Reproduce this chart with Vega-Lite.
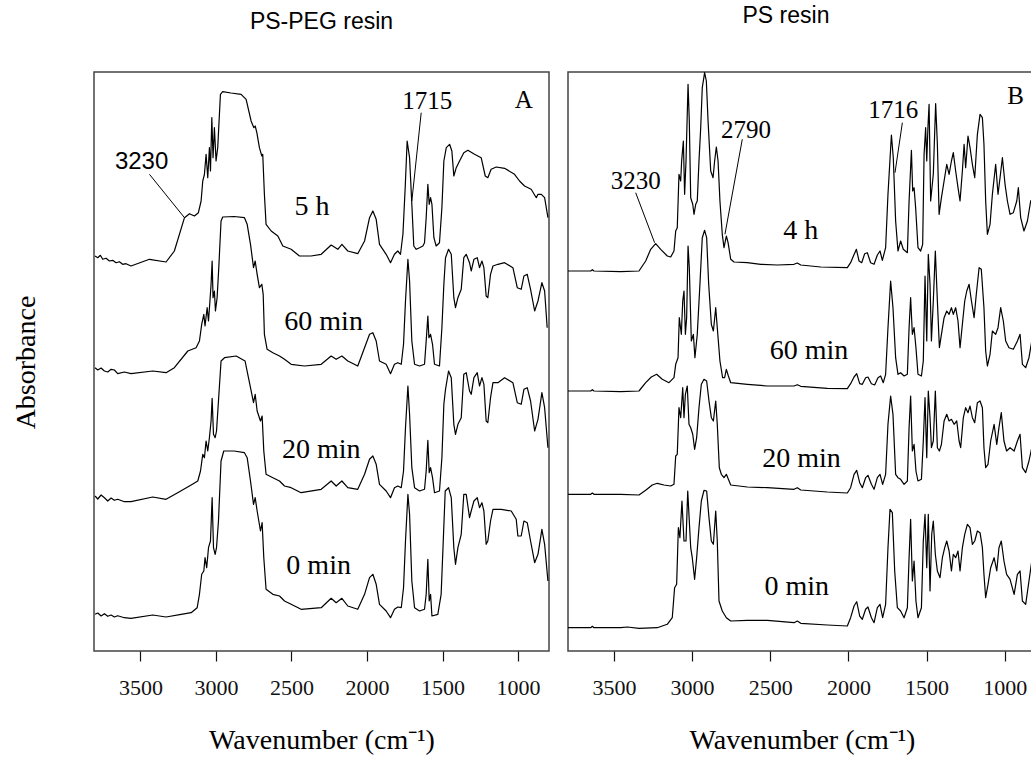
{
"$schema": "https://vega.github.io/schema/vega-lite/v6.json",
"background": "white",
"padding": {"left": 11, "top": 4, "right": 0, "bottom": 0},
"autosize": {"type": "pad"},
"spacing": 19,
"bounds": "flush",
"config": {
  "font": "Liberation Serif",
  "view": {"stroke": "#444", "strokeWidth": 1.5},
  "title": {"font": "Liberation Sans", "fontSize": 23, "fontWeight": "normal", "color": "black", "baseline": "alphabetic"}
},
"datasets": {
"pspeg": [
{"s":"5 h","w":3800,"a":395},{"s":"5 h","w":3782,"a":393.3},{"s":"5 h","w":3765,"a":395.7},{"s":"5 h","w":3749,"a":391.7},{"s":"5 h","w":3727,"a":392.7},{"s":"5 h","w":3705,"a":390},{"s":"5 h","w":3683,"a":390.7},{"s":"5 h","w":3661,"a":388.3},{"s":"5 h","w":3639,"a":389.3},{"s":"5 h","w":3617,"a":386.7},{"s":"5 h","w":3595,"a":387.3},{"s":"5 h","w":3562,"a":385},{"s":"5 h","w":3440,"a":391.7},{"s":"5 h","w":3330,"a":389},{"s":"5 h","w":3275,"a":400},{"s":"5 h","w":3208,"a":433.3},{"s":"5 h","w":3175,"a":437.3},{"s":"5 h","w":3142,"a":435},{"s":"5 h","w":3116,"a":438.3},{"s":"5 h","w":3098,"a":450},{"s":"5 h","w":3087,"a":470},{"s":"5 h","w":3076,"a":476.7},{"s":"5 h","w":3065,"a":496.7},{"s":"5 h","w":3054,"a":473.3},{"s":"5 h","w":3043,"a":503.3},{"s":"5 h","w":3036,"a":480},{"s":"5 h","w":3027,"a":533.3},{"s":"5 h","w":3019,"a":493.3},{"s":"5 h","w":3010,"a":523.3},{"s":"5 h","w":2999,"a":490},{"s":"5 h","w":2988,"a":503.3},{"s":"5 h","w":2970,"a":556.7},{"s":"5 h","w":2955,"a":559.3},{"s":"5 h","w":2900,"a":558},{"s":"5 h","w":2833,"a":556.7},{"s":"5 h","w":2800,"a":551.7},{"s":"5 h","w":2767,"a":530},{"s":"5 h","w":2749,"a":523.3},{"s":"5 h","w":2740,"a":525},{"s":"5 h","w":2729,"a":518.3},{"s":"5 h","w":2712,"a":503.3},{"s":"5 h","w":2696,"a":495},{"s":"5 h","w":2690,"a":496.7},{"s":"5 h","w":2679,"a":456.7},{"s":"5 h","w":2668,"a":426.7},{"s":"5 h","w":2634,"a":420},{"s":"5 h","w":2590,"a":415},{"s":"5 h","w":2557,"a":405},{"s":"5 h","w":2502,"a":401.7},{"s":"5 h","w":2447,"a":395},{"s":"5 h","w":2370,"a":395},{"s":"5 h","w":2303,"a":396.7},{"s":"5 h","w":2237,"a":406},{"s":"5 h","w":2193,"a":401.7},{"s":"5 h","w":2166,"a":406.7},{"s":"5 h","w":2127,"a":400},{"s":"5 h","w":2061,"a":397.3},{"s":"5 h","w":2016,"a":410},{"s":"5 h","w":1983,"a":433.3},{"s":"5 h","w":1961,"a":440},{"s":"5 h","w":1939,"a":431.7},{"s":"5 h","w":1917,"a":406.7},{"s":"5 h","w":1873,"a":396.7},{"s":"5 h","w":1844,"a":388.3},{"s":"5 h","w":1818,"a":396.7},{"s":"5 h","w":1796,"a":400},{"s":"5 h","w":1778,"a":396.7},{"s":"5 h","w":1762,"a":416.7},{"s":"5 h","w":1747,"a":463.3},{"s":"5 h","w":1734,"a":510},{"s":"5 h","w":1718,"a":493.3},{"s":"5 h","w":1703,"a":446.7},{"s":"5 h","w":1690,"a":405},{"s":"5 h","w":1674,"a":401.7},{"s":"5 h","w":1652,"a":403.3},{"s":"5 h","w":1630,"a":405},{"s":"5 h","w":1619,"a":408.3},{"s":"5 h","w":1608,"a":433.3},{"s":"5 h","w":1597,"a":466.7},{"s":"5 h","w":1588,"a":446.7},{"s":"5 h","w":1579,"a":453.3},{"s":"5 h","w":1570,"a":446.7},{"s":"5 h","w":1557,"a":413.3},{"s":"5 h","w":1542,"a":405},{"s":"5 h","w":1520,"a":408.3},{"s":"5 h","w":1504,"a":443.3},{"s":"5 h","w":1491,"a":490},{"s":"5 h","w":1475,"a":503.3},{"s":"5 h","w":1453,"a":506.7},{"s":"5 h","w":1438,"a":500},{"s":"5 h","w":1425,"a":475},{"s":"5 h","w":1409,"a":483.3},{"s":"5 h","w":1387,"a":490},{"s":"5 h","w":1359,"a":498.3},{"s":"5 h","w":1332,"a":500.7},{"s":"5 h","w":1288,"a":496.7},{"s":"5 h","w":1244,"a":493.3},{"s":"5 h","w":1217,"a":475},{"s":"5 h","w":1200,"a":473.3},{"s":"5 h","w":1178,"a":481.7},{"s":"5 h","w":1144,"a":484},{"s":"5 h","w":1089,"a":482.7},{"s":"5 h","w":1023,"a":476.7},{"s":"5 h","w":990,"a":470},{"s":"5 h","w":957,"a":465},{"s":"5 h","w":913,"a":461.7},{"s":"5 h","w":879,"a":453.3},{"s":"5 h","w":868,"a":456.7},{"s":"5 h","w":846,"a":456.7},{"s":"5 h","w":824,"a":453.3},{"s":"5 h","w":802,"a":433.3},
{"s":"60 min","w":3800,"a":283.3},{"s":"60 min","w":3782,"a":281},{"s":"60 min","w":3760,"a":283},{"s":"60 min","w":3738,"a":280},{"s":"60 min","w":3716,"a":279},{"s":"60 min","w":3694,"a":281.7},{"s":"60 min","w":3672,"a":281},{"s":"60 min","w":3650,"a":277.3},{"s":"60 min","w":3606,"a":279},{"s":"60 min","w":3562,"a":277.3},{"s":"60 min","w":3418,"a":280},{"s":"60 min","w":3330,"a":278.3},{"s":"60 min","w":3275,"a":283.3},{"s":"60 min","w":3186,"a":300},{"s":"60 min","w":3131,"a":303.3},{"s":"60 min","w":3109,"a":310},{"s":"60 min","w":3094,"a":326.7},{"s":"60 min","w":3080,"a":336.7},{"s":"60 min","w":3072,"a":325},{"s":"60 min","w":3058,"a":343.3},{"s":"60 min","w":3049,"a":330},{"s":"60 min","w":3041,"a":346.7},{"s":"60 min","w":3032,"a":366.7},{"s":"60 min","w":3025,"a":390},{"s":"60 min","w":3019,"a":353.3},{"s":"60 min","w":3010,"a":360},{"s":"60 min","w":3003,"a":340},{"s":"60 min","w":2992,"a":353.3},{"s":"60 min","w":2981,"a":383.3},{"s":"60 min","w":2966,"a":430},{"s":"60 min","w":2955,"a":434},{"s":"60 min","w":2880,"a":434.5},{"s":"60 min","w":2811,"a":433.3},{"s":"60 min","w":2793,"a":426.7},{"s":"60 min","w":2771,"a":406.7},{"s":"60 min","w":2751,"a":383.3},{"s":"60 min","w":2740,"a":390},{"s":"60 min","w":2727,"a":376.7},{"s":"60 min","w":2712,"a":363.3},{"s":"60 min","w":2696,"a":366.7},{"s":"60 min","w":2687,"a":356.7},{"s":"60 min","w":2679,"a":316.7},{"s":"60 min","w":2661,"a":301.7},{"s":"60 min","w":2623,"a":298.3},{"s":"60 min","w":2579,"a":295},{"s":"60 min","w":2546,"a":291.7},{"s":"60 min","w":2502,"a":286.7},{"s":"60 min","w":2414,"a":285},{"s":"60 min","w":2303,"a":286.7},{"s":"60 min","w":2237,"a":295},{"s":"60 min","w":2204,"a":291.7},{"s":"60 min","w":2166,"a":295},{"s":"60 min","w":2127,"a":290},{"s":"60 min","w":2061,"a":285},{"s":"60 min","w":2016,"a":303.3},{"s":"60 min","w":1983,"a":316.7},{"s":"60 min","w":1961,"a":318.3},{"s":"60 min","w":1939,"a":310},{"s":"60 min","w":1917,"a":290},{"s":"60 min","w":1873,"a":286.7},{"s":"60 min","w":1844,"a":277.3},{"s":"60 min","w":1818,"a":286.7},{"s":"60 min","w":1796,"a":288.3},{"s":"60 min","w":1773,"a":286.7},{"s":"60 min","w":1758,"a":306.7},{"s":"60 min","w":1745,"a":350},{"s":"60 min","w":1729,"a":391.7},{"s":"60 min","w":1718,"a":370},{"s":"60 min","w":1703,"a":310},{"s":"60 min","w":1685,"a":286.7},{"s":"60 min","w":1652,"a":285},{"s":"60 min","w":1619,"a":286.7},{"s":"60 min","w":1608,"a":310},{"s":"60 min","w":1597,"a":335},{"s":"60 min","w":1590,"a":313.3},{"s":"60 min","w":1579,"a":316.7},{"s":"60 min","w":1566,"a":306.7},{"s":"60 min","w":1553,"a":286.7},{"s":"60 min","w":1520,"a":285},{"s":"60 min","w":1504,"a":323.3},{"s":"60 min","w":1491,"a":366.7},{"s":"60 min","w":1480,"a":393.3},{"s":"60 min","w":1460,"a":401.7},{"s":"60 min","w":1442,"a":396.7},{"s":"60 min","w":1425,"a":353.3},{"s":"60 min","w":1414,"a":343.3},{"s":"60 min","w":1398,"a":353.3},{"s":"60 min","w":1376,"a":361.7},{"s":"60 min","w":1359,"a":393.3},{"s":"60 min","w":1343,"a":396.7},{"s":"60 min","w":1321,"a":388.3},{"s":"60 min","w":1310,"a":380},{"s":"60 min","w":1292,"a":391.7},{"s":"60 min","w":1270,"a":393.3},{"s":"60 min","w":1255,"a":383.3},{"s":"60 min","w":1239,"a":390},{"s":"60 min","w":1226,"a":383.3},{"s":"60 min","w":1211,"a":355},{"s":"60 min","w":1200,"a":353.3},{"s":"60 min","w":1182,"a":376.7},{"s":"60 min","w":1166,"a":385},{"s":"60 min","w":1133,"a":386.7},{"s":"60 min","w":1089,"a":388.3},{"s":"60 min","w":1034,"a":383.3},{"s":"60 min","w":1005,"a":363.3},{"s":"60 min","w":979,"a":361.7},{"s":"60 min","w":961,"a":375},{"s":"60 min","w":939,"a":376.7},{"s":"60 min","w":917,"a":361.7},{"s":"60 min","w":890,"a":340},{"s":"60 min","w":868,"a":350},{"s":"60 min","w":842,"a":368.3},{"s":"60 min","w":824,"a":360},{"s":"60 min","w":807,"a":323.3},
{"s":"20 min","w":3800,"a":155},{"s":"20 min","w":3782,"a":152},{"s":"20 min","w":3760,"a":156},{"s":"20 min","w":3738,"a":153.3},{"s":"20 min","w":3716,"a":150},{"s":"20 min","w":3694,"a":153},{"s":"20 min","w":3672,"a":150.7},{"s":"20 min","w":3650,"a":151.7},{"s":"20 min","w":3606,"a":149.3},{"s":"20 min","w":3562,"a":149.3},{"s":"20 min","w":3418,"a":154},{"s":"20 min","w":3330,"a":151.7},{"s":"20 min","w":3253,"a":158.3},{"s":"20 min","w":3164,"a":166},{"s":"20 min","w":3120,"a":170},{"s":"20 min","w":3102,"a":180},{"s":"20 min","w":3087,"a":196.7},{"s":"20 min","w":3076,"a":193.3},{"s":"20 min","w":3065,"a":210},{"s":"20 min","w":3054,"a":200},{"s":"20 min","w":3043,"a":213.3},{"s":"20 min","w":3032,"a":230},{"s":"20 min","w":3025,"a":252.7},{"s":"20 min","w":3016,"a":216.7},{"s":"20 min","w":3005,"a":213.3},{"s":"20 min","w":2996,"a":220},{"s":"20 min","w":2983,"a":250},{"s":"20 min","w":2966,"a":290},{"s":"20 min","w":2943,"a":293.3},{"s":"20 min","w":2866,"a":295},{"s":"20 min","w":2807,"a":290},{"s":"20 min","w":2789,"a":276.7},{"s":"20 min","w":2771,"a":263.3},{"s":"20 min","w":2751,"a":248.3},{"s":"20 min","w":2740,"a":256.7},{"s":"20 min","w":2727,"a":240},{"s":"20 min","w":2705,"a":230},{"s":"20 min","w":2694,"a":235},{"s":"20 min","w":2683,"a":200},{"s":"20 min","w":2668,"a":176.7},{"s":"20 min","w":2623,"a":173.3},{"s":"20 min","w":2579,"a":170},{"s":"20 min","w":2546,"a":165},{"s":"20 min","w":2502,"a":163.3},{"s":"20 min","w":2436,"a":158.3},{"s":"20 min","w":2303,"a":161.7},{"s":"20 min","w":2237,"a":170},{"s":"20 min","w":2204,"a":165},{"s":"20 min","w":2166,"a":170},{"s":"20 min","w":2127,"a":163.3},{"s":"20 min","w":2061,"a":161.7},{"s":"20 min","w":2016,"a":176.7},{"s":"20 min","w":1983,"a":191.7},{"s":"20 min","w":1961,"a":195},{"s":"20 min","w":1939,"a":186.7},{"s":"20 min","w":1917,"a":166.7},{"s":"20 min","w":1873,"a":160},{"s":"20 min","w":1844,"a":153.3},{"s":"20 min","w":1818,"a":163.3},{"s":"20 min","w":1796,"a":165},{"s":"20 min","w":1773,"a":163.3},{"s":"20 min","w":1758,"a":180},{"s":"20 min","w":1745,"a":223.3},{"s":"20 min","w":1729,"a":265},{"s":"20 min","w":1718,"a":236.7},{"s":"20 min","w":1703,"a":183.3},{"s":"20 min","w":1685,"a":163.3},{"s":"20 min","w":1652,"a":160},{"s":"20 min","w":1619,"a":161.7},{"s":"20 min","w":1608,"a":180},{"s":"20 min","w":1597,"a":210.7},{"s":"20 min","w":1588,"a":178.3},{"s":"20 min","w":1579,"a":183.3},{"s":"20 min","w":1566,"a":173.3},{"s":"20 min","w":1553,"a":158.3},{"s":"20 min","w":1520,"a":160},{"s":"20 min","w":1504,"a":193.3},{"s":"20 min","w":1491,"a":246.7},{"s":"20 min","w":1480,"a":261.7},{"s":"20 min","w":1460,"a":280},{"s":"20 min","w":1442,"a":273.3},{"s":"20 min","w":1425,"a":226.7},{"s":"20 min","w":1414,"a":216.7},{"s":"20 min","w":1398,"a":226.7},{"s":"20 min","w":1376,"a":233.3},{"s":"20 min","w":1359,"a":276.7},{"s":"20 min","w":1343,"a":278.3},{"s":"20 min","w":1321,"a":260},{"s":"20 min","w":1310,"a":256.7},{"s":"20 min","w":1292,"a":273.3},{"s":"20 min","w":1270,"a":278.3},{"s":"20 min","w":1255,"a":265},{"s":"20 min","w":1239,"a":273.3},{"s":"20 min","w":1226,"a":266.7},{"s":"20 min","w":1211,"a":230},{"s":"20 min","w":1200,"a":228.3},{"s":"20 min","w":1182,"a":253.3},{"s":"20 min","w":1166,"a":268.3},{"s":"20 min","w":1133,"a":268.3},{"s":"20 min","w":1089,"a":273.3},{"s":"20 min","w":1034,"a":268.3},{"s":"20 min","w":1005,"a":248.3},{"s":"20 min","w":979,"a":246.7},{"s":"20 min","w":961,"a":261.7},{"s":"20 min","w":939,"a":263.3},{"s":"20 min","w":917,"a":250},{"s":"20 min","w":890,"a":220},{"s":"20 min","w":868,"a":231.7},{"s":"20 min","w":842,"a":258.3},{"s":"20 min","w":824,"a":243.3},{"s":"20 min","w":802,"a":203.3},
{"s":"0 min","w":3800,"a":36.7},{"s":"0 min","w":3782,"a":38},{"s":"0 min","w":3760,"a":35},{"s":"0 min","w":3738,"a":37.3},{"s":"0 min","w":3716,"a":34.7},{"s":"0 min","w":3694,"a":36},{"s":"0 min","w":3672,"a":34},{"s":"0 min","w":3650,"a":35.3},{"s":"0 min","w":3606,"a":33.3},{"s":"0 min","w":3562,"a":32.7},{"s":"0 min","w":3418,"a":36},{"s":"0 min","w":3330,"a":34},{"s":"0 min","w":3230,"a":36.7},{"s":"0 min","w":3164,"a":38.3},{"s":"0 min","w":3124,"a":43.3},{"s":"0 min","w":3109,"a":56.7},{"s":"0 min","w":3094,"a":76.7},{"s":"0 min","w":3080,"a":80},{"s":"0 min","w":3072,"a":93.3},{"s":"0 min","w":3061,"a":83.3},{"s":"0 min","w":3049,"a":103.3},{"s":"0 min","w":3036,"a":110},{"s":"0 min","w":3025,"a":153.3},{"s":"0 min","w":3016,"a":103.3},{"s":"0 min","w":3005,"a":96.7},{"s":"0 min","w":2996,"a":103.3},{"s":"0 min","w":2983,"a":130},{"s":"0 min","w":2966,"a":190},{"s":"0 min","w":2948,"a":200},{"s":"0 min","w":2880,"a":200},{"s":"0 min","w":2811,"a":198.3},{"s":"0 min","w":2793,"a":193.3},{"s":"0 min","w":2771,"a":170},{"s":"0 min","w":2751,"a":146.7},{"s":"0 min","w":2740,"a":153.3},{"s":"0 min","w":2727,"a":140},{"s":"0 min","w":2705,"a":120},{"s":"0 min","w":2694,"a":128.3},{"s":"0 min","w":2683,"a":93.3},{"s":"0 min","w":2668,"a":61.7},{"s":"0 min","w":2623,"a":56.7},{"s":"0 min","w":2579,"a":55},{"s":"0 min","w":2546,"a":50},{"s":"0 min","w":2502,"a":46.7},{"s":"0 min","w":2436,"a":41.7},{"s":"0 min","w":2303,"a":43.3},{"s":"0 min","w":2237,"a":52.7},{"s":"0 min","w":2204,"a":48.3},{"s":"0 min","w":2166,"a":52.7},{"s":"0 min","w":2127,"a":45},{"s":"0 min","w":2061,"a":41.7},{"s":"0 min","w":2016,"a":56.7},{"s":"0 min","w":1983,"a":73.3},{"s":"0 min","w":1961,"a":76.7},{"s":"0 min","w":1939,"a":66.7},{"s":"0 min","w":1917,"a":46.7},{"s":"0 min","w":1873,"a":40},{"s":"0 min","w":1844,"a":33.3},{"s":"0 min","w":1818,"a":41.7},{"s":"0 min","w":1796,"a":44},{"s":"0 min","w":1773,"a":43.3},{"s":"0 min","w":1758,"a":63.3},{"s":"0 min","w":1745,"a":110},{"s":"0 min","w":1729,"a":156.7},{"s":"0 min","w":1718,"a":136.7},{"s":"0 min","w":1703,"a":70},{"s":"0 min","w":1685,"a":43.3},{"s":"0 min","w":1652,"a":40},{"s":"0 min","w":1619,"a":41.7},{"s":"0 min","w":1608,"a":56.7},{"s":"0 min","w":1597,"a":91.7},{"s":"0 min","w":1588,"a":50},{"s":"0 min","w":1579,"a":56.7},{"s":"0 min","w":1570,"a":35},{"s":"0 min","w":1531,"a":36.7},{"s":"0 min","w":1509,"a":56.7},{"s":"0 min","w":1495,"a":110},{"s":"0 min","w":1482,"a":160},{"s":"0 min","w":1460,"a":163.3},{"s":"0 min","w":1442,"a":153.3},{"s":"0 min","w":1425,"a":103.3},{"s":"0 min","w":1414,"a":86.7},{"s":"0 min","w":1398,"a":103.3},{"s":"0 min","w":1376,"a":116.7},{"s":"0 min","w":1359,"a":156.7},{"s":"0 min","w":1343,"a":156.7},{"s":"0 min","w":1321,"a":133.3},{"s":"0 min","w":1310,"a":140},{"s":"0 min","w":1292,"a":150},{"s":"0 min","w":1270,"a":153.3},{"s":"0 min","w":1255,"a":143.3},{"s":"0 min","w":1239,"a":148.3},{"s":"0 min","w":1226,"a":140},{"s":"0 min","w":1211,"a":106.7},{"s":"0 min","w":1200,"a":110},{"s":"0 min","w":1182,"a":130},{"s":"0 min","w":1166,"a":141.7},{"s":"0 min","w":1111,"a":141.7},{"s":"0 min","w":1045,"a":140},{"s":"0 min","w":1012,"a":131.7},{"s":"0 min","w":1001,"a":115},{"s":"0 min","w":979,"a":115},{"s":"0 min","w":961,"a":130},{"s":"0 min","w":939,"a":128.3},{"s":"0 min","w":917,"a":110},{"s":"0 min","w":890,"a":88.3},{"s":"0 min","w":868,"a":96.7},{"s":"0 min","w":842,"a":121.7},{"s":"0 min","w":824,"a":106.7},{"s":"0 min","w":802,"a":70}
],
"ps": [
{"s":"4 h","w":3794,"a":380},{"s":"4 h","w":3649,"a":380},{"s":"4 h","w":3638,"a":381.3},{"s":"4 h","w":3628,"a":380},{"s":"4 h","w":3457,"a":379.3},{"s":"4 h","w":3340,"a":380},{"s":"4 h","w":3297,"a":390},{"s":"4 h","w":3265,"a":401.7},{"s":"4 h","w":3233,"a":407.3},{"s":"4 h","w":3201,"a":401.7},{"s":"4 h","w":3159,"a":395},{"s":"4 h","w":3137,"a":394},{"s":"4 h","w":3116,"a":400},{"s":"4 h","w":3105,"a":420},{"s":"4 h","w":3095,"a":423.3},{"s":"4 h","w":3084,"a":476.7},{"s":"4 h","w":3073,"a":470},{"s":"4 h","w":3067,"a":490},{"s":"4 h","w":3056,"a":510},{"s":"4 h","w":3048,"a":456.7},{"s":"4 h","w":3039,"a":490},{"s":"4 h","w":3026,"a":566.7},{"s":"4 h","w":3018,"a":530},{"s":"4 h","w":3009,"a":453.3},{"s":"4 h","w":2996,"a":446.7},{"s":"4 h","w":2988,"a":436.7},{"s":"4 h","w":2977,"a":446.7},{"s":"4 h","w":2967,"a":450},{"s":"4 h","w":2956,"a":490},{"s":"4 h","w":2945,"a":523.3},{"s":"4 h","w":2935,"a":563.3},{"s":"4 h","w":2920,"a":578.3},{"s":"4 h","w":2909,"a":570},{"s":"4 h","w":2898,"a":530},{"s":"4 h","w":2881,"a":480},{"s":"4 h","w":2866,"a":473.3},{"s":"4 h","w":2856,"a":490},{"s":"4 h","w":2845,"a":504},{"s":"4 h","w":2834,"a":490},{"s":"4 h","w":2822,"a":450},{"s":"4 h","w":2807,"a":416.7},{"s":"4 h","w":2796,"a":403.3},{"s":"4 h","w":2781,"a":415},{"s":"4 h","w":2770,"a":408.3},{"s":"4 h","w":2753,"a":391.7},{"s":"4 h","w":2732,"a":389},{"s":"4 h","w":2647,"a":388.3},{"s":"4 h","w":2561,"a":386.7},{"s":"4 h","w":2455,"a":386},{"s":"4 h","w":2348,"a":386.7},{"s":"4 h","w":2327,"a":388},{"s":"4 h","w":2305,"a":386},{"s":"4 h","w":2177,"a":384},{"s":"4 h","w":2007,"a":383.3},{"s":"4 h","w":1986,"a":388.3},{"s":"4 h","w":1968,"a":395},{"s":"4 h","w":1949,"a":401.7},{"s":"4 h","w":1932,"a":390},{"s":"4 h","w":1915,"a":388.3},{"s":"4 h","w":1896,"a":397.3},{"s":"4 h","w":1879,"a":398.3},{"s":"4 h","w":1858,"a":388.3},{"s":"4 h","w":1836,"a":386.7},{"s":"4 h","w":1815,"a":396},{"s":"4 h","w":1798,"a":400},{"s":"4 h","w":1783,"a":390.7},{"s":"4 h","w":1762,"a":403.3},{"s":"4 h","w":1747,"a":456.7},{"s":"4 h","w":1725,"a":516},{"s":"4 h","w":1713,"a":493.3},{"s":"4 h","w":1698,"a":430},{"s":"4 h","w":1683,"a":400},{"s":"4 h","w":1666,"a":410},{"s":"4 h","w":1649,"a":401.7},{"s":"4 h","w":1623,"a":398.3},{"s":"4 h","w":1612,"a":450},{"s":"4 h","w":1606,"a":470},{"s":"4 h","w":1597,"a":500.7},{"s":"4 h","w":1589,"a":460},{"s":"4 h","w":1580,"a":463.3},{"s":"4 h","w":1570,"a":443.3},{"s":"4 h","w":1555,"a":403.3},{"s":"4 h","w":1538,"a":400},{"s":"4 h","w":1525,"a":406.7},{"s":"4 h","w":1516,"a":496.7},{"s":"4 h","w":1506,"a":523.3},{"s":"4 h","w":1499,"a":490},{"s":"4 h","w":1491,"a":525},{"s":"4 h","w":1484,"a":546.7},{"s":"4 h","w":1474,"a":450},{"s":"4 h","w":1457,"a":476.7},{"s":"4 h","w":1442,"a":547.3},{"s":"4 h","w":1431,"a":506.7},{"s":"4 h","w":1420,"a":436.7},{"s":"4 h","w":1405,"a":453.3},{"s":"4 h","w":1388,"a":470},{"s":"4 h","w":1371,"a":486.7},{"s":"4 h","w":1356,"a":476.7},{"s":"4 h","w":1341,"a":490},{"s":"4 h","w":1329,"a":498.3},{"s":"4 h","w":1314,"a":480},{"s":"4 h","w":1299,"a":463.3},{"s":"4 h","w":1286,"a":450},{"s":"4 h","w":1271,"a":480},{"s":"4 h","w":1260,"a":506.7},{"s":"4 h","w":1250,"a":483.3},{"s":"4 h","w":1235,"a":515},{"s":"4 h","w":1222,"a":503.3},{"s":"4 h","w":1207,"a":486.7},{"s":"4 h","w":1192,"a":473.3},{"s":"4 h","w":1175,"a":516.7},{"s":"4 h","w":1158,"a":536.7},{"s":"4 h","w":1143,"a":533.3},{"s":"4 h","w":1133,"a":506.7},{"s":"4 h","w":1122,"a":450},{"s":"4 h","w":1111,"a":416.7},{"s":"4 h","w":1094,"a":426.7},{"s":"4 h","w":1079,"a":456.7},{"s":"4 h","w":1058,"a":486.7},{"s":"4 h","w":1043,"a":456.7},{"s":"4 h","w":1030,"a":473.3},{"s":"4 h","w":1015,"a":493.3},{"s":"4 h","w":998,"a":466.7},{"s":"4 h","w":983,"a":450},{"s":"4 h","w":966,"a":436.7},{"s":"4 h","w":945,"a":438.3},{"s":"4 h","w":923,"a":450},{"s":"4 h","w":913,"a":463.3},{"s":"4 h","w":898,"a":433.3},{"s":"4 h","w":877,"a":420},{"s":"4 h","w":855,"a":430},{"s":"4 h","w":834,"a":450},{"s":"4 h","w":805,"a":455},
{"s":"60 min","w":3794,"a":260},{"s":"60 min","w":3649,"a":260},{"s":"60 min","w":3638,"a":261.3},{"s":"60 min","w":3628,"a":260},{"s":"60 min","w":3457,"a":259.3},{"s":"60 min","w":3340,"a":260},{"s":"60 min","w":3297,"a":268.3},{"s":"60 min","w":3261,"a":274},{"s":"60 min","w":3227,"a":276.7},{"s":"60 min","w":3191,"a":271.7},{"s":"60 min","w":3148,"a":268.3},{"s":"60 min","w":3116,"a":273.3},{"s":"60 min","w":3105,"a":286.7},{"s":"60 min","w":3090,"a":293.3},{"s":"60 min","w":3082,"a":333.3},{"s":"60 min","w":3069,"a":316.7},{"s":"60 min","w":3060,"a":350},{"s":"60 min","w":3052,"a":360},{"s":"60 min","w":3043,"a":316.7},{"s":"60 min","w":3035,"a":333.3},{"s":"60 min","w":3026,"a":405},{"s":"60 min","w":3018,"a":383.3},{"s":"60 min","w":3005,"a":310},{"s":"60 min","w":2992,"a":316.7},{"s":"60 min","w":2982,"a":293.3},{"s":"60 min","w":2967,"a":316.7},{"s":"60 min","w":2950,"a":366.7},{"s":"60 min","w":2935,"a":413.3},{"s":"60 min","w":2920,"a":420.7},{"s":"60 min","w":2907,"a":413.3},{"s":"60 min","w":2894,"a":366.7},{"s":"60 min","w":2877,"a":326.7},{"s":"60 min","w":2864,"a":320},{"s":"60 min","w":2849,"a":343.3},{"s":"60 min","w":2839,"a":323.3},{"s":"60 min","w":2822,"a":290},{"s":"60 min","w":2805,"a":273.3},{"s":"60 min","w":2792,"a":273.3},{"s":"60 min","w":2781,"a":281.7},{"s":"60 min","w":2768,"a":275},{"s":"60 min","w":2753,"a":268.3},{"s":"60 min","w":2647,"a":266.7},{"s":"60 min","w":2519,"a":265},{"s":"60 min","w":2348,"a":265},{"s":"60 min","w":2327,"a":266.3},{"s":"60 min","w":2305,"a":264.7},{"s":"60 min","w":2135,"a":262.7},{"s":"60 min","w":2007,"a":262.3},{"s":"60 min","w":1986,"a":267.3},{"s":"60 min","w":1964,"a":274},{"s":"60 min","w":1947,"a":277.3},{"s":"60 min","w":1928,"a":267.3},{"s":"60 min","w":1911,"a":266.7},{"s":"60 min","w":1890,"a":273.3},{"s":"60 min","w":1875,"a":274},{"s":"60 min","w":1853,"a":267.3},{"s":"60 min","w":1832,"a":266},{"s":"60 min","w":1811,"a":273.3},{"s":"60 min","w":1794,"a":275},{"s":"60 min","w":1777,"a":268.3},{"s":"60 min","w":1762,"a":276.7},{"s":"60 min","w":1747,"a":323.3},{"s":"60 min","w":1730,"a":370},{"s":"60 min","w":1715,"a":343.3},{"s":"60 min","w":1698,"a":293.3},{"s":"60 min","w":1683,"a":276.7},{"s":"60 min","w":1666,"a":278.3},{"s":"60 min","w":1644,"a":275},{"s":"60 min","w":1623,"a":276.7},{"s":"60 min","w":1612,"a":323.3},{"s":"60 min","w":1602,"a":353.3},{"s":"60 min","w":1591,"a":316.7},{"s":"60 min","w":1580,"a":323.3},{"s":"60 min","w":1568,"a":303.3},{"s":"60 min","w":1555,"a":276.7},{"s":"60 min","w":1533,"a":275},{"s":"60 min","w":1521,"a":290},{"s":"60 min","w":1510,"a":375},{"s":"60 min","w":1499,"a":310},{"s":"60 min","w":1489,"a":396.7},{"s":"60 min","w":1478,"a":366.7},{"s":"60 min","w":1469,"a":310},{"s":"60 min","w":1457,"a":350},{"s":"60 min","w":1444,"a":400},{"s":"60 min","w":1431,"a":350},{"s":"60 min","w":1418,"a":303.3},{"s":"60 min","w":1405,"a":316.7},{"s":"60 min","w":1388,"a":333.3},{"s":"60 min","w":1371,"a":340},{"s":"60 min","w":1356,"a":336.7},{"s":"60 min","w":1341,"a":343.3},{"s":"60 min","w":1329,"a":336.7},{"s":"60 min","w":1314,"a":343.3},{"s":"60 min","w":1299,"a":330},{"s":"60 min","w":1286,"a":303.3},{"s":"60 min","w":1271,"a":326.7},{"s":"60 min","w":1256,"a":350},{"s":"60 min","w":1243,"a":360},{"s":"60 min","w":1228,"a":366.7},{"s":"60 min","w":1213,"a":350},{"s":"60 min","w":1196,"a":333.3},{"s":"60 min","w":1182,"a":356.7},{"s":"60 min","w":1164,"a":383.3},{"s":"60 min","w":1150,"a":381.7},{"s":"60 min","w":1133,"a":343.3},{"s":"60 min","w":1122,"a":300},{"s":"60 min","w":1111,"a":285},{"s":"60 min","w":1094,"a":296.7},{"s":"60 min","w":1079,"a":320},{"s":"60 min","w":1058,"a":316.7},{"s":"60 min","w":1043,"a":323.3},{"s":"60 min","w":1026,"a":343.3},{"s":"60 min","w":1009,"a":330},{"s":"60 min","w":994,"a":310},{"s":"60 min","w":973,"a":303.3},{"s":"60 min","w":945,"a":301.7},{"s":"60 min","w":919,"a":310},{"s":"60 min","w":902,"a":316.7},{"s":"60 min","w":887,"a":286.7},{"s":"60 min","w":866,"a":283.3},{"s":"60 min","w":845,"a":293.3},{"s":"60 min","w":827,"a":310},{"s":"60 min","w":805,"a":315},
{"s":"20 min","w":3794,"a":156.7},{"s":"20 min","w":3649,"a":156.7},{"s":"20 min","w":3638,"a":158},{"s":"20 min","w":3628,"a":156.7},{"s":"20 min","w":3457,"a":156.7},{"s":"20 min","w":3340,"a":156},{"s":"20 min","w":3297,"a":160.7},{"s":"20 min","w":3255,"a":166},{"s":"20 min","w":3223,"a":167.7},{"s":"20 min","w":3180,"a":166},{"s":"20 min","w":3137,"a":165},{"s":"20 min","w":3116,"a":166.7},{"s":"20 min","w":3105,"a":195},{"s":"20 min","w":3095,"a":196.7},{"s":"20 min","w":3084,"a":243.3},{"s":"20 min","w":3073,"a":233.3},{"s":"20 min","w":3060,"a":263.3},{"s":"20 min","w":3052,"a":233.3},{"s":"20 min","w":3043,"a":256.7},{"s":"20 min","w":3031,"a":265},{"s":"20 min","w":3020,"a":226.7},{"s":"20 min","w":3009,"a":223.3},{"s":"20 min","w":2996,"a":216.7},{"s":"20 min","w":2984,"a":201.7},{"s":"20 min","w":2971,"a":213.3},{"s":"20 min","w":2956,"a":243.3},{"s":"20 min","w":2941,"a":266.7},{"s":"20 min","w":2924,"a":271.7},{"s":"20 min","w":2907,"a":270},{"s":"20 min","w":2892,"a":250},{"s":"20 min","w":2877,"a":233.3},{"s":"20 min","w":2864,"a":230},{"s":"20 min","w":2849,"a":250},{"s":"20 min","w":2839,"a":226.7},{"s":"20 min","w":2826,"a":183.3},{"s":"20 min","w":2813,"a":176.7},{"s":"20 min","w":2796,"a":173.3},{"s":"20 min","w":2781,"a":176.7},{"s":"20 min","w":2768,"a":171.7},{"s":"20 min","w":2753,"a":166},{"s":"20 min","w":2647,"a":164},{"s":"20 min","w":2519,"a":163.3},{"s":"20 min","w":2348,"a":161.7},{"s":"20 min","w":2327,"a":163.3},{"s":"20 min","w":2305,"a":161},{"s":"20 min","w":2135,"a":159},{"s":"20 min","w":2007,"a":158},{"s":"20 min","w":1986,"a":163.3},{"s":"20 min","w":1964,"a":176.7},{"s":"20 min","w":1947,"a":180.7},{"s":"20 min","w":1928,"a":168.3},{"s":"20 min","w":1911,"a":163.3},{"s":"20 min","w":1890,"a":173.3},{"s":"20 min","w":1875,"a":175.7},{"s":"20 min","w":1853,"a":166.7},{"s":"20 min","w":1836,"a":161.7},{"s":"20 min","w":1815,"a":173.3},{"s":"20 min","w":1798,"a":176.7},{"s":"20 min","w":1781,"a":166.7},{"s":"20 min","w":1762,"a":176.7},{"s":"20 min","w":1747,"a":226.7},{"s":"20 min","w":1730,"a":255},{"s":"20 min","w":1715,"a":236.7},{"s":"20 min","w":1698,"a":176.7},{"s":"20 min","w":1683,"a":173.3},{"s":"20 min","w":1666,"a":171.7},{"s":"20 min","w":1644,"a":166.7},{"s":"20 min","w":1623,"a":170},{"s":"20 min","w":1612,"a":223.3},{"s":"20 min","w":1602,"a":255},{"s":"20 min","w":1591,"a":200},{"s":"20 min","w":1580,"a":206.7},{"s":"20 min","w":1568,"a":180},{"s":"20 min","w":1555,"a":170},{"s":"20 min","w":1533,"a":171.7},{"s":"20 min","w":1521,"a":210},{"s":"20 min","w":1510,"a":253.3},{"s":"20 min","w":1499,"a":193.3},{"s":"20 min","w":1489,"a":260},{"s":"20 min","w":1478,"a":233.3},{"s":"20 min","w":1469,"a":203.3},{"s":"20 min","w":1457,"a":210},{"s":"20 min","w":1444,"a":260},{"s":"20 min","w":1431,"a":203.3},{"s":"20 min","w":1418,"a":200},{"s":"20 min","w":1405,"a":206.7},{"s":"20 min","w":1388,"a":230},{"s":"20 min","w":1371,"a":236.7},{"s":"20 min","w":1356,"a":230},{"s":"20 min","w":1341,"a":231.7},{"s":"20 min","w":1324,"a":226.7},{"s":"20 min","w":1307,"a":230},{"s":"20 min","w":1292,"a":210},{"s":"20 min","w":1282,"a":203.3},{"s":"20 min","w":1265,"a":233.3},{"s":"20 min","w":1250,"a":243.3},{"s":"20 min","w":1235,"a":238.3},{"s":"20 min","w":1222,"a":245},{"s":"20 min","w":1207,"a":233.3},{"s":"20 min","w":1192,"a":228.3},{"s":"20 min","w":1175,"a":248.3},{"s":"20 min","w":1158,"a":250},{"s":"20 min","w":1143,"a":243.3},{"s":"20 min","w":1133,"a":203.3},{"s":"20 min","w":1122,"a":183.3},{"s":"20 min","w":1107,"a":186.7},{"s":"20 min","w":1090,"a":210},{"s":"20 min","w":1068,"a":226.7},{"s":"20 min","w":1051,"a":206.7},{"s":"20 min","w":1037,"a":223.3},{"s":"20 min","w":1022,"a":238.3},{"s":"20 min","w":1005,"a":210},{"s":"20 min","w":988,"a":200},{"s":"20 min","w":966,"a":203.3},{"s":"20 min","w":940,"a":200},{"s":"20 min","w":919,"a":210},{"s":"20 min","w":902,"a":216.7},{"s":"20 min","w":887,"a":183.3},{"s":"20 min","w":866,"a":178.3},{"s":"20 min","w":845,"a":190},{"s":"20 min","w":827,"a":203.3},{"s":"20 min","w":805,"a":208},
{"s":"0 min","w":3794,"a":23.3},{"s":"0 min","w":3649,"a":23.3},{"s":"0 min","w":3638,"a":24.7},{"s":"0 min","w":3628,"a":23.3},{"s":"0 min","w":3457,"a":23.3},{"s":"0 min","w":3414,"a":24},{"s":"0 min","w":3340,"a":22.7},{"s":"0 min","w":3223,"a":23.3},{"s":"0 min","w":3159,"a":26.7},{"s":"0 min","w":3127,"a":33.3},{"s":"0 min","w":3112,"a":63.3},{"s":"0 min","w":3099,"a":66.7},{"s":"0 min","w":3088,"a":123.3},{"s":"0 min","w":3078,"a":113.3},{"s":"0 min","w":3065,"a":150},{"s":"0 min","w":3052,"a":110},{"s":"0 min","w":3039,"a":110},{"s":"0 min","w":3028,"a":160},{"s":"0 min","w":3018,"a":130},{"s":"0 min","w":3009,"a":103.3},{"s":"0 min","w":2999,"a":93.3},{"s":"0 min","w":2984,"a":71.7},{"s":"0 min","w":2971,"a":93.3},{"s":"0 min","w":2956,"a":123.3},{"s":"0 min","w":2941,"a":150},{"s":"0 min","w":2924,"a":160.7},{"s":"0 min","w":2907,"a":160},{"s":"0 min","w":2892,"a":133.3},{"s":"0 min","w":2877,"a":110},{"s":"0 min","w":2864,"a":106.7},{"s":"0 min","w":2849,"a":140},{"s":"0 min","w":2839,"a":110},{"s":"0 min","w":2828,"a":50},{"s":"0 min","w":2807,"a":40},{"s":"0 min","w":2781,"a":33.3},{"s":"0 min","w":2753,"a":30},{"s":"0 min","w":2647,"a":30.7},{"s":"0 min","w":2519,"a":30.7},{"s":"0 min","w":2348,"a":28.3},{"s":"0 min","w":2327,"a":30},{"s":"0 min","w":2305,"a":27.7},{"s":"0 min","w":2135,"a":26},{"s":"0 min","w":2007,"a":25},{"s":"0 min","w":1986,"a":33.3},{"s":"0 min","w":1964,"a":45},{"s":"0 min","w":1947,"a":49.3},{"s":"0 min","w":1928,"a":35},{"s":"0 min","w":1911,"a":31.7},{"s":"0 min","w":1890,"a":41.7},{"s":"0 min","w":1875,"a":44},{"s":"0 min","w":1853,"a":33.3},{"s":"0 min","w":1836,"a":28.3},{"s":"0 min","w":1815,"a":43.3},{"s":"0 min","w":1798,"a":46.7},{"s":"0 min","w":1781,"a":33.3},{"s":"0 min","w":1762,"a":46.7},{"s":"0 min","w":1747,"a":103.3},{"s":"0 min","w":1734,"a":141.7},{"s":"0 min","w":1719,"a":138.3},{"s":"0 min","w":1704,"a":80},{"s":"0 min","w":1687,"a":43.3},{"s":"0 min","w":1666,"a":40},{"s":"0 min","w":1644,"a":33.3},{"s":"0 min","w":1623,"a":43.3},{"s":"0 min","w":1612,"a":93.3},{"s":"0 min","w":1602,"a":131.7},{"s":"0 min","w":1591,"a":70},{"s":"0 min","w":1580,"a":90},{"s":"0 min","w":1568,"a":50},{"s":"0 min","w":1555,"a":33.3},{"s":"0 min","w":1533,"a":43.3},{"s":"0 min","w":1521,"a":110},{"s":"0 min","w":1510,"a":136.7},{"s":"0 min","w":1499,"a":83.3},{"s":"0 min","w":1489,"a":136.7},{"s":"0 min","w":1478,"a":60},{"s":"0 min","w":1467,"a":116.7},{"s":"0 min","w":1457,"a":130},{"s":"0 min","w":1444,"a":96.7},{"s":"0 min","w":1431,"a":80},{"s":"0 min","w":1414,"a":73.3},{"s":"0 min","w":1399,"a":93.3},{"s":"0 min","w":1384,"a":103.3},{"s":"0 min","w":1371,"a":110},{"s":"0 min","w":1356,"a":100},{"s":"0 min","w":1341,"a":80},{"s":"0 min","w":1329,"a":96.7},{"s":"0 min","w":1314,"a":93.3},{"s":"0 min","w":1299,"a":100},{"s":"0 min","w":1286,"a":80},{"s":"0 min","w":1271,"a":103.3},{"s":"0 min","w":1256,"a":116.7},{"s":"0 min","w":1239,"a":126.7},{"s":"0 min","w":1222,"a":123.3},{"s":"0 min","w":1207,"a":106.7},{"s":"0 min","w":1192,"a":110},{"s":"0 min","w":1175,"a":120},{"s":"0 min","w":1158,"a":118.3},{"s":"0 min","w":1143,"a":103.3},{"s":"0 min","w":1133,"a":76.7},{"s":"0 min","w":1122,"a":53.3},{"s":"0 min","w":1107,"a":66.7},{"s":"0 min","w":1090,"a":83.3},{"s":"0 min","w":1068,"a":93.3},{"s":"0 min","w":1051,"a":80},{"s":"0 min","w":1037,"a":103.3},{"s":"0 min","w":1022,"a":110},{"s":"0 min","w":1005,"a":90},{"s":"0 min","w":988,"a":76.7},{"s":"0 min","w":966,"a":71.7},{"s":"0 min","w":940,"a":56.7},{"s":"0 min","w":919,"a":76.7},{"s":"0 min","w":902,"a":80},{"s":"0 min","w":887,"a":50},{"s":"0 min","w":866,"a":46.7},{"s":"0 min","w":845,"a":70},{"s":"0 min","w":827,"a":90},{"s":"0 min","w":805,"a":95}
],
"labels": [
{"panel":"A","kind":"series","t":"5 h","w":2364,"a":436},
{"panel":"A","kind":"series","t":"60 min","w":2287,"a":320.7},
{"panel":"A","kind":"series","t":"20 min","w":2303,"a":193.3},
{"panel":"A","kind":"series","t":"0 min","w":2320,"a":77.3},
{"panel":"A","kind":"peak","t":"1715","w":1601,"a":541.7},
{"panel":"A","kind":"peak","t":"A","w":962,"a":543},
{"panel":"A","kind":"sans","t":"3230","w":3492,"a":481.7},
{"panel":"B","kind":"series","t":"4 h","w":2305,"a":412.3},
{"panel":"B","kind":"series","t":"60 min","w":2252,"a":292.3},
{"panel":"B","kind":"series","t":"20 min","w":2300,"a":184},
{"panel":"B","kind":"series","t":"0 min","w":2331,"a":55.7},
{"panel":"B","kind":"peak","t":"B","w":930,"a":546.7},
{"panel":"B","kind":"peak","t":"1716","w":1714,"a":533.3},
{"panel":"B","kind":"peak","t":"2790","w":2655,"a":512.7},
{"panel":"B","kind":"peak","t":"3230","w":3361,"a":461.7}
],
"leaders": [
{"panel":"A","w":3440,"a":476.7,"w2":3208,"a2":433.3},
{"panel":"A","w":1641,"a":538.3,"w2":1703,"a2":450},
{"panel":"B","w":3361,"a":458.3,"w2":3240,"a2":408.3},
{"panel":"B","w":2679,"a":511.7,"w2":2790,"a2":416.7},
{"panel":"B","w":1655,"a":528.3,"w2":1702,"a2":478.3}
]
},
"hconcat": [
{
  "width": 455, "height": 579,
  "title": {"text": "PS-PEG resin", "offset": 38},
  "encoding": {
    "x": {"field": "w", "type": "quantitative", "scale": {"domain": [795, 3807], "reverse": true, "nice": false, "zero": false}, "axis": {"orient": "bottom", "values": [3500, 3000, 2500, 2000, 1500, 1000], "format": "d", "title": "Wavenumber (cm⁻¹)", "grid": false, "domain": false, "ticks": true, "tickSize": 10, "tickColor": "#111111", "tickWidth": 1.2, "labels": true, "labelFont": "Liberation Serif", "labelFontSize": 22, "labelColor": "#111111", "labelPadding": 33, "labelBaseline": "alphabetic", "labelFlush": false, "labelOverlap": false, "titleFont": "Liberation Serif", "titleFontSize": 28, "titleFontWeight": "normal", "titleColor": "black", "titlePadding": 28}},
    "y": {"field": "a", "type": "quantitative", "scale": {"domain": [0, 579], "nice": false}, "axis": {"title": "Absorbance", "grid": false, "ticks": false, "labels": false, "domain": false, "titleFont": "Liberation Serif", "titleFontSize": 28, "titleFontWeight": "normal", "titleColor": "black", "titleAngle": 270, "titleBaseline": "alphabetic", "titleAlign": "center", "titleX": -60, "titleY": 290}}
  },
  "layer": [
    {"data": {"name": "pspeg"}, "mark": {"type": "line", "color": "black", "strokeWidth": 1.2, "strokeJoin": "round"}, "encoding": {"detail": {"field": "s"}}},
    {"data": {"name": "leaders"}, "transform": [{"filter": "datum.panel === 'A'"}], "mark": {"type": "rule", "color": "black", "strokeWidth": 1}, "encoding": {"x2": {"field": "w2"}, "y2": {"field": "a2"}}},
    {"data": {"name": "labels"}, "transform": [{"filter": "datum.panel === 'A' && datum.kind === 'series'"}], "mark": {"type": "text", "font": "Liberation Serif", "fontSize": 28, "color": "black", "align": "center", "baseline": "alphabetic"}, "encoding": {"text": {"field": "t"}}},
    {"data": {"name": "labels"}, "transform": [{"filter": "datum.panel === 'A' && datum.kind === 'peak'"}], "mark": {"type": "text", "font": "Liberation Serif", "fontSize": 25, "color": "black", "align": "center", "baseline": "alphabetic"}, "encoding": {"text": {"field": "t"}}},
    {"data": {"name": "labels"}, "transform": [{"filter": "datum.panel === 'A' && datum.kind === 'sans'"}], "mark": {"type": "text", "font": "Liberation Sans", "fontSize": 24, "color": "black", "align": "center", "baseline": "alphabetic"}, "encoding": {"text": {"field": "t"}}}
  ]
},
{
  "width": 468, "height": 579,
  "title": {"text": "PS resin", "offset": 44, "dx": -16},
  "encoding": {
    "x": {"field": "w", "type": "quantitative", "scale": {"domain": [800, 3794], "reverse": true, "nice": false, "zero": false}, "axis": {"orient": "bottom", "values": [3500, 3000, 2500, 2000, 1500, 1000], "format": "d", "title": "Wavenumber (cm⁻¹)", "grid": false, "domain": false, "ticks": true, "tickSize": 10, "tickColor": "#111111", "tickWidth": 1.2, "labels": true, "labelFont": "Liberation Serif", "labelFontSize": 22, "labelColor": "#111111", "labelPadding": 33, "labelBaseline": "alphabetic", "labelFlush": false, "labelOverlap": false, "titleFont": "Liberation Serif", "titleFontSize": 28, "titleFontWeight": "normal", "titleColor": "black", "titlePadding": 28}},
    "y": {"field": "a", "type": "quantitative", "scale": {"domain": [0, 579], "nice": false}, "axis": null}
  },
  "layer": [
    {"data": {"name": "ps"}, "mark": {"type": "line", "color": "black", "strokeWidth": 1.2, "strokeJoin": "round"}, "encoding": {"detail": {"field": "s"}}},
    {"data": {"name": "leaders"}, "transform": [{"filter": "datum.panel === 'B'"}], "mark": {"type": "rule", "color": "black", "strokeWidth": 1}, "encoding": {"x2": {"field": "w2"}, "y2": {"field": "a2"}}},
    {"data": {"name": "labels"}, "transform": [{"filter": "datum.panel === 'B' && datum.kind === 'series'"}], "mark": {"type": "text", "font": "Liberation Serif", "fontSize": 28, "color": "black", "align": "center", "baseline": "alphabetic"}, "encoding": {"text": {"field": "t"}}},
    {"data": {"name": "labels"}, "transform": [{"filter": "datum.panel === 'B' && datum.kind === 'peak'"}], "mark": {"type": "text", "font": "Liberation Serif", "fontSize": 25, "color": "black", "align": "center", "baseline": "alphabetic"}, "encoding": {"text": {"field": "t"}}}
  ]
}
]
}
